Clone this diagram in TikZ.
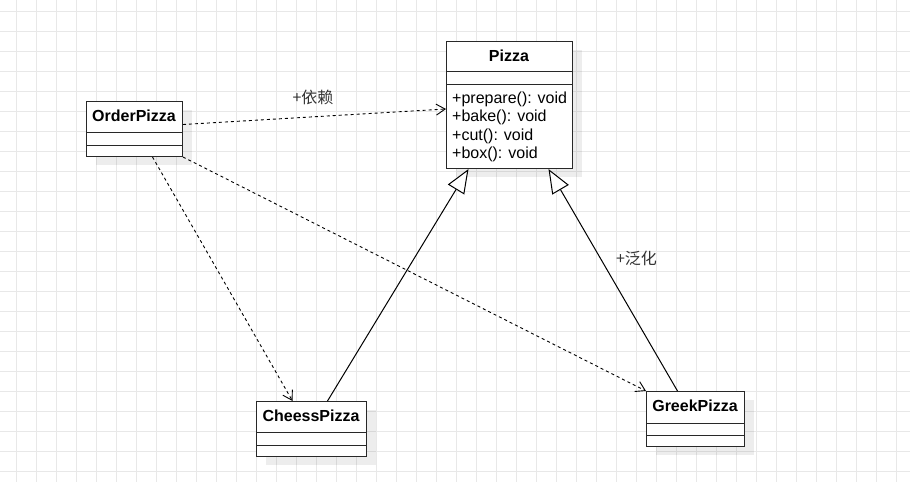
\documentclass[tikz,border=0pt]{standalone}
\usepackage{fontspec}
\setmainfont{Liberation Sans}
\newfontfamily\cjk{Noto Sans CJK SC}
\usetikzlibrary{arrows.meta,shadows}
\definecolor{gridc}{RGB}{232,232,232}
\definecolor{linec}{RGB}{40,40,40}
\definecolor{txtc}{RGB}{51,51,51}
\tikzset{
  umlbox/.style={draw=linec, line width=1pt, fill=white, inner sep=0pt, anchor=north west,
    drop shadow={shadow xshift=9pt, shadow yshift=-8pt, fill=black, opacity=0.07}},
  cline/.style={draw=linec, line width=1pt},
  ttl/.style={font=\fontsize{16}{18}\selectfont\bfseries, anchor=base, inner sep=0pt},
  meth/.style={font=\fontsize{16}{18}\selectfont, anchor=base west, inner sep=0pt},
  lbl/.style={font=\cjk\fontsize{16}{18}\selectfont, text=txtc, inner sep=0pt},
  depend/.style={draw=black, line width=0.9pt, dash pattern=on 3pt off 3pt,
    -{Straight Barb[length=9pt,width=11pt,line width=0.9pt]}},
  general/.style={draw=black, line width=1pt,
    -{Triangle[open, length=24pt, width=19pt, line width=1pt, fill=white]}}
}
\begin{document}
\begin{tikzpicture}[x=1pt,y=-1pt]
\useasboundingbox (0,0) rectangle (910,482);
% grid
\foreach \gx in {16,36,...,906} \draw[gridc, line width=1pt] (\gx,0) -- (\gx,482);
\foreach \gy in {11,31,...,481} \draw[gridc, line width=1pt] (0,\gy) -- (910,\gy);

% Pizza
\node[umlbox, minimum width=126pt, minimum height=127pt] (pizza) at (446,41) {};
\draw[cline] (446,71) -- (572,71);
\draw[cline] (446,84) -- (572,84);
\node[ttl] (pizzat) at (509,61.7) {Pizza};
\node[meth] (m1) at (452,103.5) {+prepare(): void};
\node[meth] (m2) at (452,121.8) {+bake(): void};
\node[meth] (m3) at (452,140) {+cut(): void};
\node[meth] (m4) at (452,158.3) {+box(): void};

% OrderPizza
\node[umlbox, minimum width=96pt, minimum height=55pt] (order) at (86,101) {};
\draw[cline] (86,132) -- (182,132);
\draw[cline] (86,145) -- (182,145);
\node[ttl] (ordert) at (134,121.7) {OrderPizza};

% CheessPizza
\node[umlbox, minimum width=110pt, minimum height=55pt] (cheess) at (256,401) {};
\draw[cline] (256,432) -- (366,432);
\draw[cline] (256,445) -- (366,445);
\node[ttl] (cheesst) at (311,421.7) {CheessPizza};

% GreekPizza
\node[umlbox, minimum width=98pt, minimum height=55pt] (greek) at (646,391) {};
\draw[cline] (646,423) -- (744,423);
\draw[cline] (646,435) -- (744,435);
\node[ttl] (greekt) at (695,411.7) {GreekPizza};

% dependencies
\draw[depend] ([yshift=4.5pt]order.east) -- ([yshift=-4pt]pizza.west);
\draw[depend] ([xshift=18pt]order.south) -- ([xshift=-19pt]cheess.north);
\draw[depend] (order.south east) -- (greek.north west);

% generalizations
\draw[general] ([xshift=16pt]cheess.north) -- ([xshift=-41pt]pizza.south);
\draw[general] ([xshift=-18pt]greek.north) -- ([xshift=39pt]pizza.south);

% labels
\node[lbl] (l1) at (313,97) {+依赖};
\node[lbl] (l2) at (636.5,258.5) {+泛化};
\end{tikzpicture}
\end{document}
